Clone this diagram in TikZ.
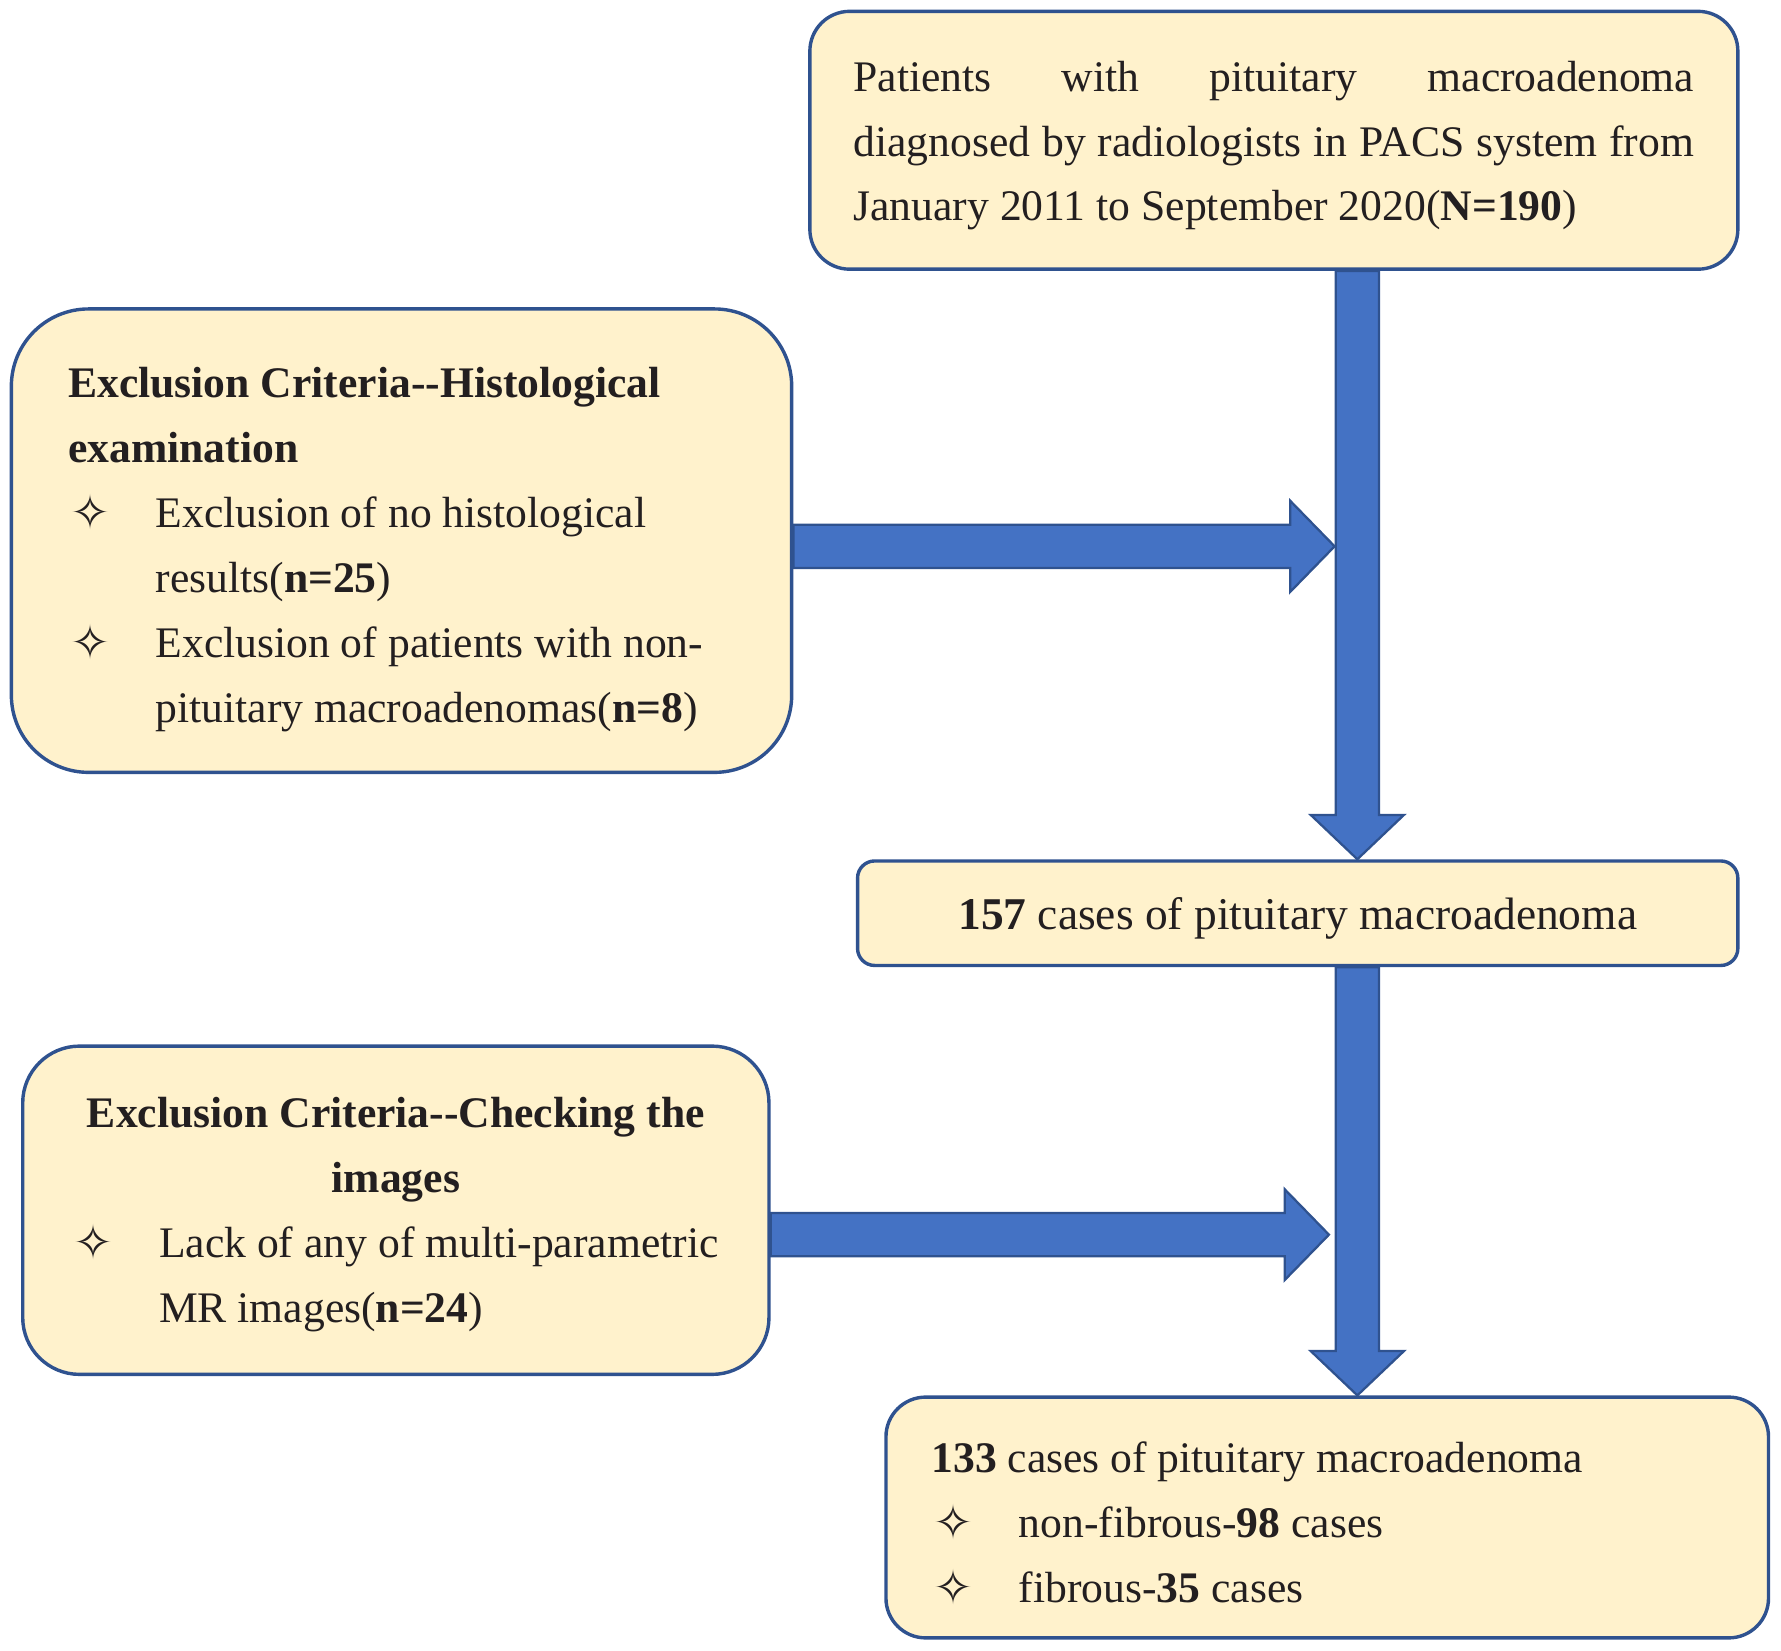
\documentclass[tikz,border=0pt]{standalone}
\usepackage{fontspec}
\setmainfont{Liberation Serif}
\newfontfamily\starfont{DejaVu Sans}
\usetikzlibrary{calc}
\definecolor{boxfill}{HTML}{FFF2CC}
\definecolor{boxedge}{HTML}{2F528F}
\definecolor{arrowblue}{HTML}{4472C4}
\definecolor{textdark}{HTML}{231F20}
\newcommand\bstar{\makebox[38.5pt][l]{\hspace{1pt}\raisebox{-1pt}{\starfont\bfseries\fontsize{21pt}{21pt}\selectfont ✧}}}
\newcommand\bgap{\hspace*{38.5pt}}
\newcommand\topstrut[1]{\rule{0pt}{#1}}
\newcommand\downblock[2]{\draw[block-arrow] let \p1=(#1), \p2=(#2) in
    (\x1-9.5pt,\y1) -- (\x1-9.5pt,\y2+19.5pt) -- (\x1-20.5pt,\y2+19.5pt) -- (\x1,\y2)
    -- (\x1+20.5pt,\y2+19.5pt) -- (\x1+9.5pt,\y2+19.5pt) -- (\x1+9.5pt,\y1) -- cycle;}
\newcommand\rightblock[2]{\draw[block-arrow] let \p1=(#1), \p2=(#2) in
    (\x1,\y2+9.5pt) -- (\x2-19.5pt,\y2+9.5pt) -- (\x2-19.5pt,\y2+20pt) -- (\x2,\y2)
    -- (\x2-19.5pt,\y2-20pt) -- (\x2-19.5pt,\y2-9.5pt) -- (\x1,\y2-9.5pt) -- cycle;}
\tikzset{
    flow-box/.style = {draw=boxedge, fill=boxfill, line width=1.5pt, rectangle, inner sep=0pt, text=textdark, font=\fontsize{19.2pt}{28.6pt}\selectfont},
    block-arrow/.style = {draw=boxedge, fill=arrowblue, line width=1pt, line join=miter},
}

\begin{document}
\begin{tikzpicture}[x=0.5pt, y=-0.5pt]
\useasboundingbox (0,0) rectangle (1568,1453.5);
\node[flow-box, minimum width=408.5pt, minimum height=113.5pt, text width=370pt, align=justify, rounded corners=17.5pt] (source) at (1121.5,123.5) {\topstrut{18pt}Patients with pituitary macroadenoma\linebreak diagnosed by radiologists in PACS system from\linebreak January 2011 to September 2020(\textbf{N=190})};
\node[flow-box, minimum width=343.5pt, minimum height=204pt, text width=293.5pt, align=flush left, rounded corners=34pt] (histo) at (353.5,476) {\topstrut{21pt}\textbf{Exclusion Criteria-{}-Histological}\\ \textbf{examination}\\ \bstar Exclusion of no histological\\ \bgap results(\textbf{n=25})\\ \bstar Exclusion of patients with non-\\ \bgap pituitary macroadenomas(\textbf{n=8})};
\node[flow-box, minimum width=387.5pt, minimum height=46pt, rounded corners=7.5pt, font=\fontsize{20pt}{28.6pt}\selectfont] (mid) at (1142.5,804) {\topstrut{18.7pt}\textbf{157} cases of pituitary macroadenoma};
\node[flow-box, minimum width=328.5pt, minimum height=144.5pt, text width=285.5pt, align=flush left, rounded corners=25pt] (imgcheck) at (348.5,1065.5) {\topstrut{17pt}\makebox[285.5pt]{\textbf{Exclusion Criteria-{}-Checking the}}\\ \makebox[285.5pt]{\textbf{images}}\\ \bstar \mbox{Lack of any of multi-parametric}\\ \bgap MR images(\textbf{n=24})};
\node[flow-box, minimum width=388.5pt, minimum height=106pt, text width=348.5pt, align=flush left, rounded corners=17.5pt] (final) at (1168.5,1336) {\topstrut{19pt}\textbf{133} cases of pituitary macroadenoma\\ \bstar non-fibrous-\textbf{98} cases\\ \bstar fibrous-\textbf{35} cases};

% arrows
\coordinate (spine) at (1195,0);
\coordinate (join1) at (1175,481);
\coordinate (join2) at (1170,1087);
\downblock{source.south -| spine}{mid.north -| spine}
\downblock{mid.south -| spine}{final.north -| spine}
\rightblock{histo.east}{join1}
\rightblock{imgcheck.east}{join2}
\end{tikzpicture}
\end{document}
